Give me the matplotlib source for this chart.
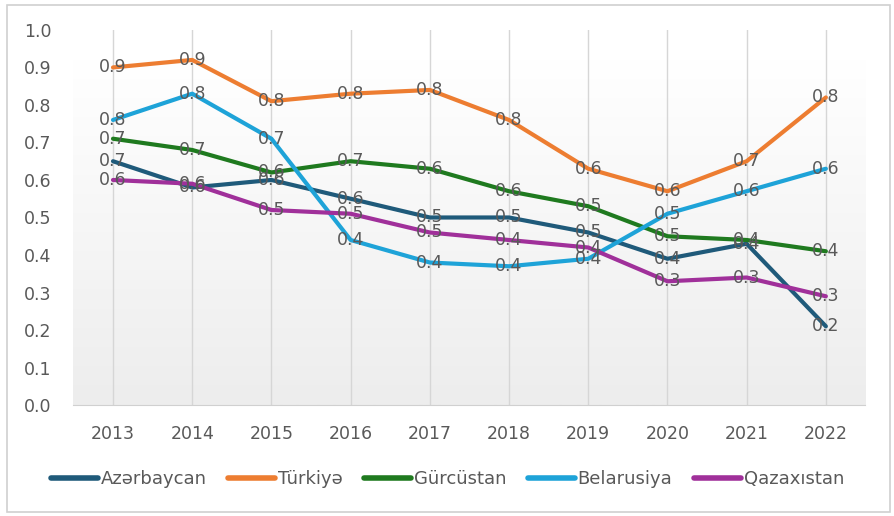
import numpy as np
import matplotlib

matplotlib.use("Agg")
import matplotlib.pyplot as plt
from matplotlib.patches import Rectangle
from matplotlib.colors import LinearSegmentedColormap

years = ["2013", "2014", "2015", "2016", "2017", "2018", "2019", "2020", "2021", "2022"]

azerbaycan = [0.65, 0.58, 0.60, 0.55, 0.50, 0.50, 0.46, 0.39, 0.43, 0.21]
turkiye = [0.90, 0.92, 0.81, 0.83, 0.84, 0.76, 0.63, 0.57, 0.65, 0.82]
gurcustan = [0.71, 0.68, 0.62, 0.65, 0.63, 0.57, 0.53, 0.45, 0.44, 0.41]
belarusiya = [0.76, 0.83, 0.71, 0.44, 0.38, 0.37, 0.39, 0.51, 0.57, 0.63]
qazaxistan = [0.60, 0.59, 0.52, 0.51, 0.46, 0.44, 0.42, 0.33, 0.34, 0.29]

series = [
    ("Azərbaycan", azerbaycan, "#1f5a7a"),
    ("Türkiyə", turkiye, "#ed7d31"),
    ("Gürcüstan", gurcustan, "#1f7a1f"),
    ("Belarusiya", belarusiya, "#1ea3d8"),
    ("Qazaxıstan", qazaxistan, "#a0309a"),
]

TEXT = "#595959"

fig = plt.figure(figsize=(8.95, 5.16), dpi=100)
fig.patches.append(Rectangle((0.008, 0.008), 0.986, 0.982, transform=fig.transFigure,
                             fill=False, edgecolor="#d0d0d0", linewidth=1.2))
ax = fig.add_axes([0.082, 0.215, 0.885, 0.727])

x = np.arange(len(years))
ax.set_xlim(-0.5, len(years) - 0.5)
ax.set_ylim(0, 1.0)

# soft gradient background: white at top, light grey at the bottom
grad = np.linspace(0.0, 1.0, 256).reshape(-1, 1)
cmap = LinearSegmentedColormap.from_list("g", ["#ffffff", "#ededed"])
ax.imshow(grad, extent=(-0.5, len(years) - 0.5, 0, 0.92), aspect="auto",
          cmap=cmap, vmin=0, vmax=1, zorder=0)

for xi in x:
    ax.axvline(xi, color="#d6d6d6", linewidth=1, zorder=1)

for name, vals, color in series:
    ax.plot(x, vals, color=color, linewidth=3, label=name, zorder=3, solid_capstyle="round")
    for xi, v in zip(x, vals):
        ax.text(xi, v, f"{v:.1f}", ha="center", va="center", fontsize=12.5, color=TEXT, zorder=4)

for side in ["top", "right", "left"]:
    ax.spines[side].set_visible(False)
ax.spines["bottom"].set_color("#d0d0d0")
ax.set_xticks(x)
ax.set_xticklabels(years)
ax.set_yticks(np.arange(0, 1.01, 0.1))
ax.set_yticklabels([f"{t:.1f}" for t in np.arange(0, 1.01, 0.1)])
ax.tick_params(axis="both", length=0, colors=TEXT, labelsize=12.5)
ax.tick_params(axis="y", pad=16)
ax.tick_params(axis="x", pad=14)

leg = fig.legend(loc="center", bbox_to_anchor=(0.5, 0.072), ncol=5, frameon=False,
                 fontsize=13, labelcolor=TEXT, handlelength=2.6, handletextpad=0.15,
                 columnspacing=1.2)
for line in leg.get_lines():
    line.set_linewidth(4)

fig.savefig("out.png", dpi=100)
